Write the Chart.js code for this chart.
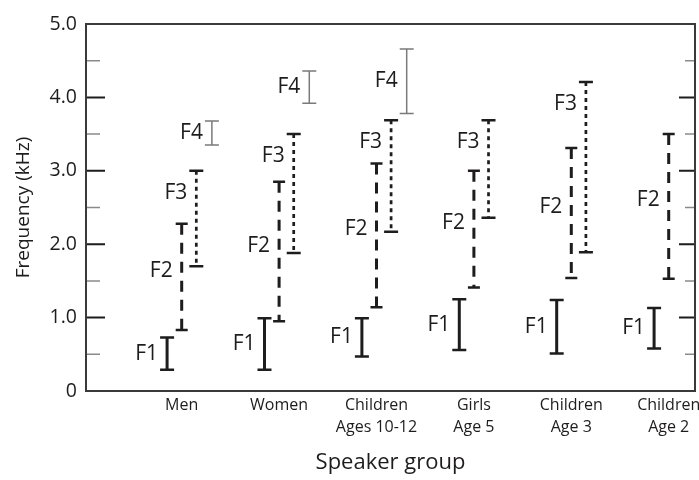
<!DOCTYPE html>
<html>
<head>
<meta charset="utf-8">
<script src="https://cdn.jsdelivr.net/npm/chart.js@4.4.1/dist/chart.umd.min.js"></script>
<style>
  body { margin: 0; background: #fff; }
  #wrap { width: 699px; height: 480px; }
</style>
</head>
<body>
<div id="wrap"><canvas id="formant-chart"></canvas></div>
<script>
var groups = [['Men'], ['Women'], ['Children', 'Ages 10-12'], ['Girls', 'Age 5'], ['Children', 'Age 3'], ['Children', 'Age 2']];
var formants = ['F1', 'F2', 'F3', 'F4'];

// formant ranges in kHz (null = not shown)
var f1Low  = [0.29, 0.29, 0.47, 0.56, 0.51, 0.58];
var f1High = [0.73, 0.99, 0.99, 1.25, 1.24, 1.13];
var f2Low  = [0.83, 0.95, 1.14, 1.41, 1.54, 1.53];
var f2High = [2.28, 2.85, 3.10, 3.00, 3.31, 3.50];
var f3Low  = [1.70, 1.88, 2.17, 2.36, 1.89, null];
var f3High = [3.00, 3.50, 3.69, 3.69, 4.21, null];
var f4Low  = [3.35, 3.92, 3.78, null, null, null];
var f4High = [3.68, 4.36, 4.66, null, null, null];

var yTicks = [0, 1, 2, 3, 4, 5];
var yTickLabels = ['0', '1.0', '2.0', '3.0', '4.0', '5.0'];

var ink = '#1e1c1d';

// how each formant is drawn
var styles = [
    { offset: -0.15, width: 3,   dash: [],      cap: 14, capWidth: 2.5, color: ink },
    { offset: 0,     width: 3,   dash: [11, 8], cap: 12, capWidth: 2.5, color: ink },
    { offset: 0.15,  width: 2.7, dash: [4, 4],  cap: 14, capWidth: 2.5, color: ink },
    { offset: 0.31,  width: 1.5, dash: [],      cap: 14, capWidth: 1.5, color: '#7a7a7a' }
];

function points(lo, hi, k) {
    var pts = [];
    lo.forEach(function (v, i) {
        if (v != null) pts.push({ x: i + styles[k].offset, y: [v, hi[i]] });
    });
    return pts;
}

var lows = [f1Low, f2Low, f3Low, f4Low];
var highs = [f1High, f2High, f3High, f4High];

var data = {
    datasets: formants.map(function (f, k) {
        return {
            label: f,
            data: points(lows[k], highs[k], k),
            backgroundColor: 'rgba(0,0,0,0)',
            borderWidth: 0,
            grouped: false,
            barThickness: 4
        };
    })
};

Chart.defaults.font.family = '"Open Sans", sans-serif';
Chart.defaults.color = ink;

// range bars with end caps + F labels
var formantPlugin = {
    id: 'formants',
    afterDatasetsDraw: function (chart) {
        var ctx = chart.ctx;
        chart.data.datasets.forEach(function (ds, k) {
            var st = styles[k];
            chart.getDatasetMeta(k).data.forEach(function (bar) {
                var p = bar.getProps(['x', 'y', 'base'], true);
                var top = Math.min(p.y, p.base), bot = Math.max(p.y, p.base);
                ctx.save();
                ctx.strokeStyle = st.color;
                ctx.lineWidth = st.width;
                ctx.setLineDash(st.dash);
                ctx.beginPath();
                ctx.moveTo(p.x, top);
                ctx.lineTo(p.x, bot);
                ctx.stroke();
                ctx.setLineDash([]);
                ctx.lineWidth = st.capWidth;
                ctx.beginPath();
                ctx.moveTo(p.x - st.cap / 2, top);
                ctx.lineTo(p.x + st.cap / 2, top);
                ctx.moveTo(p.x - st.cap / 2, bot);
                ctx.lineTo(p.x + st.cap / 2, bot);
                ctx.stroke();

                var ly = (top + bot) / 2;
                if (k === 1) ly -= 6;
                if (k === 2) ly = top + 22;
                ctx.fillStyle = ink;
                ctx.font = '21px "Open Sans"';
                ctx.textAlign = 'right';
                ctx.textBaseline = 'middle';
                ctx.fillText(ds.label, p.x - 9, ly);
                ctx.restore();
            });
        });
    }
};

// box around the plot and inward ticks on both sides
var framePlugin = {
    id: 'frame',
    afterDraw: function (chart) {
        var a = chart.chartArea, y = chart.scales.y, ctx = chart.ctx;
        ctx.save();
        y.ticks.forEach(function (t) {
            if (t.value <= 0 || t.value >= 5) return;
            var py = y.getPixelForValue(t.value);
            var major = t.value % 1 === 0;
            ctx.strokeStyle = major ? ink : '#8a8a8a';
            ctx.lineWidth = major ? 2 : 1.5;
            ctx.beginPath();
            ctx.moveTo(a.left, py);
            ctx.lineTo(a.left + (major ? 19 : 14), py);
            ctx.moveTo(a.right, py);
            ctx.lineTo(a.right - (major ? 16 : 10), py);
            ctx.stroke();
        });
        ctx.strokeStyle = '#3a3a3a';
        ctx.lineWidth = 2;
        ctx.strokeRect(a.left, a.top, a.right - a.left, a.bottom - a.top);
        ctx.restore();
    }
};

var layout = {
    type: 'bar',
    data: data,
    options: {
        responsive: true,
        maintainAspectRatio: false,
        animation: false,
        events: [],
        layout: {
            padding: { top: 24, right: 4, left: 0, bottom: 0 }
        },
        plugins: {
            legend: { display: false },
            tooltip: { enabled: false }
        },
        scales: {
            x: {
                type: 'linear',
                offset: false,
                min: -0.9825,
                max: 5.27,
                grid: { display: false, offset: false },
                border: { display: false },
                afterBuildTicks: function (s) {
                    s.ticks = groups.map(function (g, i) { return { value: i }; });
                },
                afterFit: function (s) {
                    s.height = 89;
                    s.paddingLeft = 0;
                    s.paddingRight = 0;
                },
                ticks: {
                    maxRotation: 0,
                    autoSkip: false,
                    padding: -4,
                    font: { size: 16, lineHeight: 1.35 },
                    callback: function (v) { return groups[v]; }
                },
                title: {
                    display: true,
                    text: 'Speaker group',
                    font: { size: 22 },
                    padding: { top: 0, bottom: 4 }
                }
            },
            y: {
                min: 0,
                max: 5,
                grid: { display: false, drawTicks: false },
                border: { display: false },
                afterFit: function (s) { s.width = 86; },
                ticks: {
                    stepSize: 0.5,
                    padding: 9,
                    font: { size: 19.5 },
                    callback: function (v) {
                        var i = yTicks.indexOf(v);
                        return i < 0 ? '' : yTickLabels[i];
                    }
                },
                title: {
                    display: true,
                    text: 'Frequency (kHz)',
                    font: { size: 19 },
                    padding: { top: 12, bottom: 0 }
                }
            }
        }
    },
    plugins: [formantPlugin, framePlugin]
};

new Chart(document.getElementById('formant-chart'), layout);
</script>
</body>
</html>
